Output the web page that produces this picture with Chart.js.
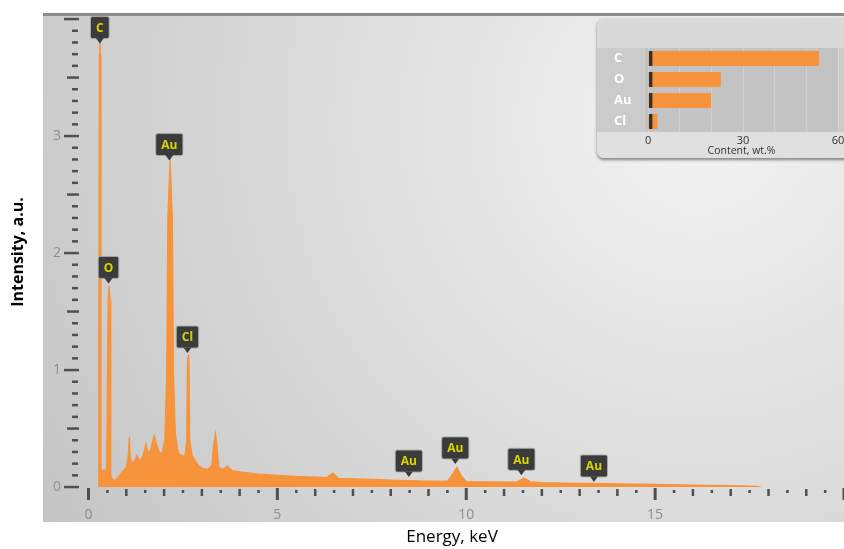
<!DOCTYPE html>
<html>
<head>
<meta charset="utf-8">
<script src="https://cdn.jsdelivr.net/npm/chart.js@4.4.1/dist/chart.umd.min.js"></script>
<style>
  html, body { margin: 0; padding: 0; background: #fff; overflow: hidden; }
  canvas { display: block; }
  #wrap { position: relative; width: 844px; height: 549px; overflow: hidden; }
  #inset {
    position: absolute; left: 597px; top: 18px; width: 262px; height: 140px;
    border-radius: 7px; background: #d9d9d9; overflow: hidden;
    box-shadow: 0 2px 3px rgba(0, 0, 0, 0.45);
  }
</style>
</head>
<body>
<div id="wrap">
  <canvas id="spectrum" width="844" height="549"></canvas>
  <div id="inset"><canvas id="content" width="262" height="140"></canvas></div>
</div>
<script>
    'use strict';

    // EDS spectrum
    var energyKeV = [0.27, 0.285, 0.30, 0.315, 0.33, 0.40, 0.48, 0.52, 0.545, 0.57, 0.59, 0.64, 0.72, 0.82, 0.92,
        1.00, 1.05, 1.08, 1.11, 1.17, 1.23, 1.28, 1.33, 1.40, 1.47, 1.52, 1.57, 1.63, 1.69, 1.74, 1.80, 1.87, 1.94,
        2.02, 2.07, 2.10, 2.16, 2.22, 2.25, 2.30, 2.38, 2.47, 2.55, 2.60, 2.62, 2.64, 2.66, 2.68, 2.74, 2.82, 2.92,
        3.02, 3.15, 3.26, 3.32, 3.36, 3.40, 3.45, 3.55, 3.68, 3.80, 4.0, 4.5, 5.0, 5.5, 6.0, 6.3, 6.47, 6.62,
        7.0, 7.5, 8.0, 8.5, 9.0, 9.5, 9.62, 9.75, 9.88, 10.0, 10.5, 11.0, 11.35, 11.53, 11.7, 12.0,
        13.0, 14.0, 15.0, 16.0, 17.0, 17.7, 17.8];
    var intensity = [0, 3.7, 3.9, 3.7, 0.15, 0.14, 0.15, 1.6, 1.72, 1.6, 0.1, 0.06, 0.06, 0.1, 0.14,
        0.17, 0.26, 0.43, 0.24, 0.2, 0.23, 0.27, 0.24, 0.23, 0.3, 0.37, 0.3, 0.3, 0.38, 0.44, 0.37, 0.3, 0.28,
        0.4, 0.95, 2.3, 2.8, 2.3, 0.95, 0.45, 0.29, 0.27, 0.26, 0.4, 1.05, 1.13, 1.05, 0.4, 0.27, 0.23, 0.18,
        0.16, 0.15, 0.18, 0.38, 0.46, 0.36, 0.17, 0.15, 0.18, 0.14, 0.13, 0.11, 0.1, 0.09, 0.085, 0.08, 0.12, 0.075,
        0.07, 0.065, 0.06, 0.055, 0.05, 0.05, 0.1, 0.17, 0.09, 0.047, 0.045, 0.042, 0.045, 0.077, 0.045, 0.037,
        0.032, 0.027, 0.022, 0.017, 0.012, 0.006, 0];

    var peakTags = ['C', 'O', 'Au', 'Cl', 'Au', 'Au', 'Au', 'Au'];
    var peakTagEnergy = [0.30, 0.53, 2.14, 2.62, 8.48, 9.71, 11.46, 13.38];
    var peakTagLevel = [3.79, 1.74, 2.79, 1.145, 0.085, 0.197, 0.1, 0.043];

    var xTickLabels = [0, 5, 10, 15];
    var yTickLabels = [0, 1, 2, 3];

    // inset: composition
    var elements = ['C', 'O', 'Au', 'Cl'];
    var contentWt = [54, 23, 20, 3];
    var contentTicks = [0, 30, 60];

    var ORANGE = '#f7933b';
    var FONT = '"Open Sans", "DejaVu Sans", sans-serif';


    //====[ main spectrum ]=======================================

    function drawTag(ctx, px, tipY, text) {
        ctx.font = 'bold 12px ' + FONT;
        var w = Math.max(16, ctx.measureText(text).width + 11);
        var h = 22;
        var bottom = tipY - 5;
        var top = bottom - h;
        ctx.beginPath();
        ctx.roundRect(px - w / 2, top, w, h, 2);
        ctx.fillStyle = '#3b3b3b';
        ctx.fill();
        ctx.strokeStyle = 'rgba(170,170,170,0.9)';
        ctx.lineWidth = 1;
        ctx.stroke();
        ctx.beginPath();
        ctx.moveTo(px - 4, bottom - 0.5);
        ctx.lineTo(px + 4, bottom - 0.5);
        ctx.lineTo(px, tipY);
        ctx.closePath();
        ctx.fillStyle = '#3b3b3b';
        ctx.fill();
        ctx.fillStyle = '#dcd400';
        ctx.textAlign = 'center';
        ctx.textBaseline = 'middle';
        ctx.fillText(text, px, top + h / 2 + 1);
    }

    var spectrumDecor = {
        id: 'spectrumDecor',
        beforeDraw: function (chart) {
            var ctx = chart.ctx;
            ctx.save();
            var g = ctx.createRadialGradient(700, 120, 0, 700, 120, 800);
            g.addColorStop(0, '#f3f3f3');
            g.addColorStop(1, '#c3c3c3');
            ctx.fillStyle = g;
            ctx.fillRect(43, 14, 801, 508);
            ctx.fillStyle = '#8c8c8c';
            ctx.fillRect(43, 13, 801, 3);
            ctx.restore();
        },
        afterDatasetsDraw: function (chart) {
            var ctx = chart.ctx, xs = chart.scales.x, ys = chart.scales.y;
            ctx.save();
            for (var i = 0; i < peakTags.length; i++) {
                drawTag(ctx, xs.getPixelForValue(peakTagEnergy[i]), ys.getPixelForValue(peakTagLevel[i]), peakTags[i]);
            }
            ctx.restore();
        },
        afterDraw: function (chart) {
            var ctx = chart.ctx, xs = chart.scales.x, ys = chart.scales.y;
            var i, p;
            ctx.save();
            ctx.fillStyle = '#4f4f4f';
            // x ticks every 0.5 keV
            for (i = 0; i <= 40; i++) {
                p = xs.getPixelForValue(i / 2);
                if (i % 10 === 0) ctx.fillRect(p - 1.5, 488, 3, 12);
                else if (i % 2 === 0) ctx.fillRect(p - 1.2, 489, 2.5, 7);
                else ctx.fillRect(p - 1.2, 490, 2.5, 3);
            }
            // y ticks every 0.1
            for (i = 0; i <= 40; i++) {
                p = ys.getPixelForValue(i / 10);
                if (i % 10 === 0) ctx.fillRect(64, p - 1.2, 15, 2.5);
                else if (i % 5 === 0) ctx.fillRect(67, p - 1.2, 12, 2.5);
                else ctx.fillRect(72, p - 1.2, 6, 2.5);
            }
            ctx.font = '14px ' + FONT;
            ctx.fillStyle = '#8e8e8e';
            ctx.textAlign = 'center';
            ctx.textBaseline = 'middle';
            xTickLabels.forEach(function (v) {
                ctx.fillText(String(v), xs.getPixelForValue(v), 515);
            });
            ctx.textAlign = 'right';
            yTickLabels.forEach(function (v) {
                ctx.fillText(String(v), 61, ys.getPixelForValue(v));
            });

            ctx.fillStyle = '#000';
            ctx.textAlign = 'center';
            ctx.font = '17px ' + FONT;
            ctx.fillText('Energy, keV', 452, 537);
            ctx.translate(18, 252);
            ctx.rotate(-Math.PI / 2);
            ctx.font = 'bold 16px ' + FONT;
            ctx.fillText('Intensity, a.u.', 0, 0);
            ctx.restore();
        }
    };

    new Chart(document.getElementById('spectrum'), {
        type: 'line',
        data: {
            datasets: [{
                data: energyKeV.map(function (e, i) { return { x: e, y: intensity[i] }; }),
                borderColor: ORANGE,
                backgroundColor: ORANGE,
                borderWidth: 1.2,
                fill: 'origin',
                pointRadius: 0,
                tension: 0
            }]
        },
        options: {
            responsive: false,
            animation: false,
            layout: { padding: { left: 80, right: 0, top: 19, bottom: 62 } },
            plugins: { legend: { display: false }, tooltip: { enabled: false } },
            scales: {
                x: { type: 'linear', min: -0.225, max: 20, display: false },
                y: { min: 0, max: 4, display: false }
            }
        },
        plugins: [spectrumDecor]
    });


    //====[ inset bar chart ]=======================================

    var insetBand = {
        id: 'insetBand',
        beforeDraw: function (chart) {
            var ctx = chart.ctx, a = chart.chartArea;
            ctx.save();
            ctx.fillStyle = '#cbcbcb';
            ctx.fillRect(0, a.top, chart.width, a.bottom - a.top);
            ctx.fillStyle = '#c3c3c3';
            ctx.fillRect(a.left, a.top, a.right - a.left, a.bottom - a.top);
            ctx.fillStyle = '#e0e0e0';
            ctx.fillRect(0, a.bottom, chart.width, chart.height - a.bottom);
            ctx.restore();
        }
    };

    new Chart(document.getElementById('content'), {
        type: 'bar',
        data: {
            labels: elements,
            datasets: [{
                data: contentWt,
                backgroundColor: ORANGE,
                borderColor: '#4a2c14',
                borderWidth: { left: 4, right: 0, top: 0, bottom: 0 },
                borderSkipped: false,
                barPercentage: 0.8,
                categoryPercentage: 0.9
            }]
        },
        options: {
            indexAxis: 'y',
            responsive: false,
            animation: false,
            layout: { padding: { left: 17, top: 30, right: 21, bottom: 0 } },
            plugins: { legend: { display: false }, tooltip: { enabled: false } },
            scales: {
                x: {
                    min: -1,
                    max: 60,
                    afterBuildTicks: function (s) {
                        s.ticks = [0, 10, 20, 30, 40, 50, 60].map(function (v) { return { value: v }; });
                    },
                    afterFit: function (s) { s.height = 26; },
                    grid: { color: 'rgba(255,255,255,0.22)', drawTicks: false },
                    border: { display: false },
                    ticks: {
                        autoSkip: false,
                        maxRotation: 0,
                        padding: 2,
                        color: '#333',
                        font: { size: 11, family: FONT },
                        callback: function (v) { return contentTicks.indexOf(v) >= 0 ? String(v) : ''; }
                    },
                    title: {
                        display: true,
                        text: 'Content, wt.%',
                        color: '#333',
                        font: { size: 10.5, family: FONT },
                        padding: { top: 0, bottom: 1 }
                    }
                },
                y: {
                    afterFit: function (s) { s.width = 31; },
                    grid: { display: false },
                    border: { display: false },
                    ticks: { crossAlign: 'far', color: '#fff', font: { size: 13, weight: 'bold', family: FONT } }
                }
            }
        },
        plugins: [insetBand]
    });
</script>
</body>
</html>
